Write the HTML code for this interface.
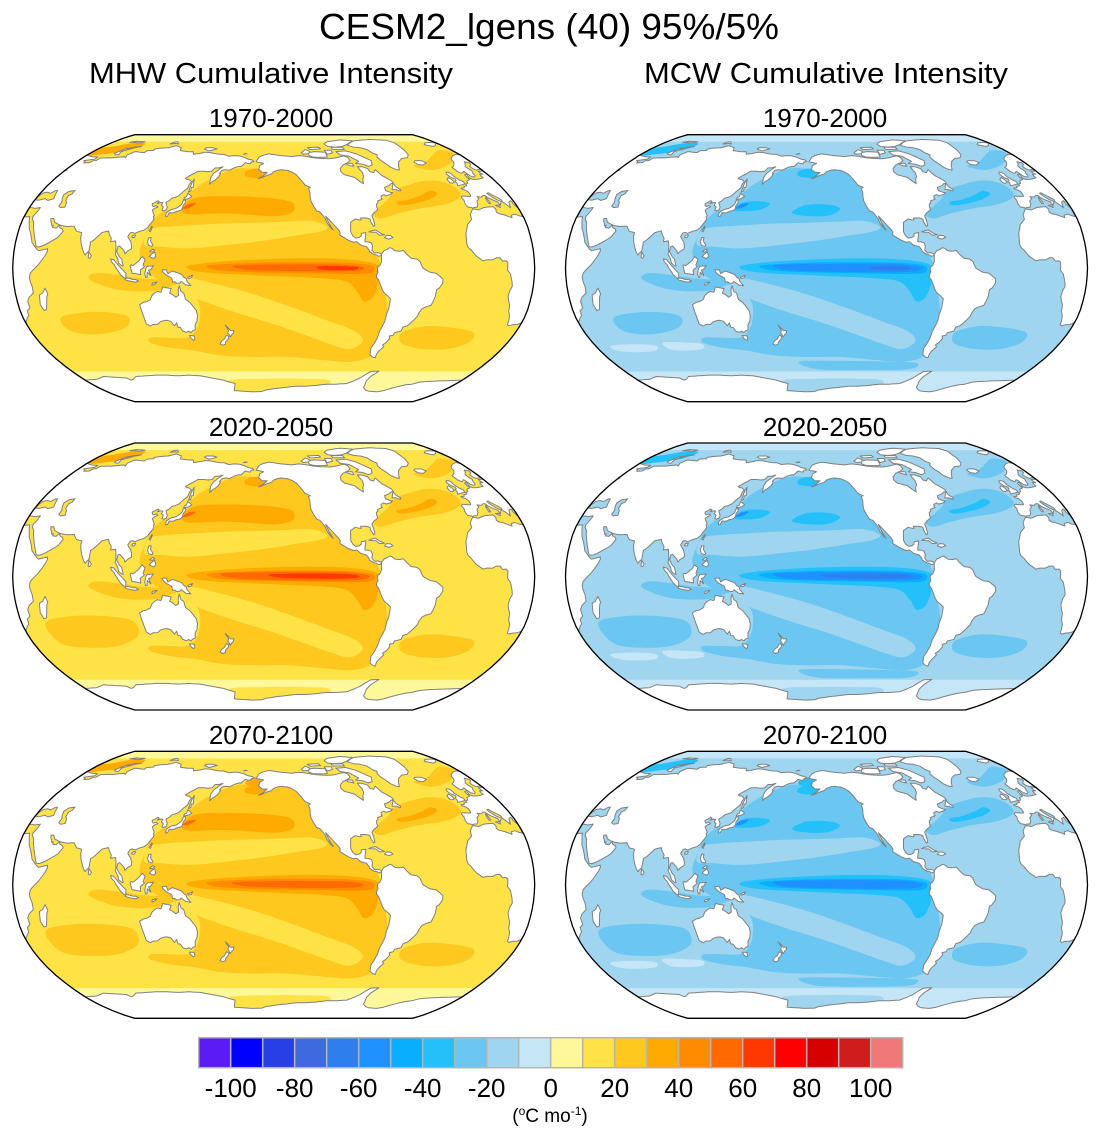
<!DOCTYPE html>
<html><head><meta charset="utf-8">
<style>
html,body{margin:0;padding:0;background:#fff;}
svg{display:block;}
text{font-family:"Liberation Sans",Arial,sans-serif;fill:#000;}
</style></head><body>
<svg id="s" xmlns="http://www.w3.org/2000/svg" width="1100" height="1140" viewBox="0 0 1100 1140">
<rect width="1100" height="1140" fill="#fff"/>
<text x="549" y="39" font-size="36" text-anchor="middle" textLength="460" lengthAdjust="spacingAndGlyphs">CESM2_lgens (40) 95%/5%</text>
<text x="271" y="83" font-size="29" text-anchor="middle" textLength="364" lengthAdjust="spacingAndGlyphs">MHW Cumulative Intensity</text>
<text x="826" y="83" font-size="29" text-anchor="middle" textLength="364" lengthAdjust="spacingAndGlyphs">MCW Cumulative Intensity</text>
<text x="271" y="127" font-size="26" text-anchor="middle">1970-2000</text>
<text x="825" y="127" font-size="26" text-anchor="middle">1970-2000</text>
<text x="271" y="436" font-size="26" text-anchor="middle">2020-2050</text>
<text x="825" y="436" font-size="26" text-anchor="middle">2020-2050</text>
<text x="271" y="744" font-size="26" text-anchor="middle">2070-2100</text>
<text x="825" y="744" font-size="26" text-anchor="middle">2070-2100</text>
<g id="panels"></g>
<g id="cbar" stroke="#b4b4b4" stroke-width="1.5">
<rect x="198.7" y="1037.7" width="32" height="30" fill="#5a1bf5"/>
<rect x="230.7" y="1037.7" width="32" height="30" fill="#0000ff"/>
<rect x="262.7" y="1037.7" width="32" height="30" fill="#283fe6"/>
<rect x="294.7" y="1037.7" width="32" height="30" fill="#3f69df"/>
<rect x="326.7" y="1037.7" width="32" height="30" fill="#2e7fee"/>
<rect x="358.7" y="1037.7" width="32" height="30" fill="#1e90ff"/>
<rect x="390.7" y="1037.7" width="32" height="30" fill="#0aaeff"/>
<rect x="422.7" y="1037.7" width="32" height="30" fill="#23c0fa"/>
<rect x="454.7" y="1037.7" width="32" height="30" fill="#6bc7f1"/>
<rect x="486.7" y="1037.7" width="32" height="30" fill="#a0d5ef"/>
<rect x="518.7" y="1037.7" width="32" height="30" fill="#c5e6f6"/>
<rect x="550.7" y="1037.7" width="32" height="30" fill="#fff89a"/>
<rect x="582.7" y="1037.7" width="32" height="30" fill="#ffe346"/>
<rect x="614.7" y="1037.7" width="32" height="30" fill="#ffc81e"/>
<rect x="646.7" y="1037.7" width="32" height="30" fill="#ffaa00"/>
<rect x="678.7" y="1037.7" width="32" height="30" fill="#ff8c00"/>
<rect x="710.7" y="1037.7" width="32" height="30" fill="#ff6a00"/>
<rect x="742.7" y="1037.7" width="32" height="30" fill="#ff3700"/>
<rect x="774.7" y="1037.7" width="32" height="30" fill="#ff0000"/>
<rect x="806.7" y="1037.7" width="32" height="30" fill="#d70000"/>
<rect x="838.7" y="1037.7" width="32" height="30" fill="#d01c1c"/>
<rect x="870.7" y="1037.7" width="32" height="30" fill="#f07878"/>
</g>
<g font-size="26" text-anchor="middle">
<text x="230.7" y="1097">-100</text>
<text x="294.7" y="1097">-80</text>
<text x="358.7" y="1097">-60</text>
<text x="422.7" y="1097">-40</text>
<text x="486.7" y="1097">-20</text>
<text x="550.7" y="1097">0</text>
<text x="614.7" y="1097">20</text>
<text x="678.7" y="1097">40</text>
<text x="742.7" y="1097">60</text>
<text x="806.7" y="1097">80</text>
<text x="870.7" y="1097">100</text>
</g>
<text x="550" y="1122" font-size="19" text-anchor="middle">(<tspan font-size="12" dy="-7">o</tspan><tspan dy="7">C mo</tspan><tspan font-size="12" dy="-7">-1</tspan><tspan dy="7">)</tspan></text>
</svg>
<script>
(function(){
var RX=[1,0.9986,0.9954,0.99,0.9822,0.973,0.96,0.9427,0.9216,0.8962,0.8679,0.835,0.7986,0.7597,0.7186,0.6732,0.6213,0.5722,0.5322];
var RY=[0,0.062,0.124,0.186,0.248,0.31,0.372,0.434,0.4958,0.5571,0.6176,0.6769,0.7346,0.7903,0.8435,0.8936,0.9394,0.9761,1];
var C0=208,SX=1.45,SY=133.5;
function P(lon,lat){var a=Math.min(90,Math.abs(lat))/5,i=Math.min(17,Math.floor(a)),f=a-i;
 var X=RX[i]+(RX[i+1]-RX[i])*f,Y=RY[i]+(RY[i+1]-RY[i])*f;
 return [SX*X*(lon-C0),-SY*Y*(lat<0?-1:1)];}
function r(v){return Math.round(v*10)/10;}
function dens(pts){var out=[];for(var k=0;k<pts.length;k++){var a=pts[k],b=pts[(k+1)%pts.length];
 var dl=Math.max(Math.abs(b[0]-a[0]),Math.abs(b[1]-a[1]));var n=Math.max(1,Math.ceil(dl/4));
 for(var j=0;j<n;j++){out.push([a[0]+(b[0]-a[0])*j/n,a[1]+(b[1]-a[1])*j/n]);}}return out;}
function poly(pts,off){var q=dens(pts);var d='';for(var k=0;k<q.length;k++){var p=P(q[k][0]+off,q[k][1]);d+=(k?'L':'M')+r(p[0])+','+r(p[1]);}return d+'Z';}
function smooth(pts,off){var q=[];for(var k=0;k<pts.length;k++)q.push(P(pts[k][0]+off,pts[k][1]));var n=q.length;
 var d='M'+r(q[0][0])+','+r(q[0][1]);
 for(var i=0;i<n;i++){var p0=q[(i-1+n)%n],p1=q[i],p2=q[(i+1)%n],p3=q[(i+2)%n];
  d+='C'+r(p1[0]+(p2[0]-p0[0])/6)+','+r(p1[1]+(p2[1]-p0[1])/6)+' '+r(p2[0]-(p3[0]-p1[0])/6)+','+r(p2[1]-(p3[1]-p1[1])/6)+' '+r(p2[0])+','+r(p2[1]);}
 return d+'Z';}
function multi(f,pts){return f(pts,-360)+f(pts,0)+f(pts,360);}

var o=[],la;for(la=90;la>=-90;la-=2.5)o.push(P(C0+180,la));for(la=-90;la<=90;la+=2.5)o.push(P(C0-180,la));
var OUT='';for(var k=0;k<o.length;k++)OUT+=(k?'L':'M')+r(o[k][0])+','+r(o[k][1]);OUT+='Z';

var LAND=[
[[-168,65.6],[-166,68.8],[-163,70],[-157,71.3],[-152,70.8],[-145,70],[-141,69.7],[-135,69.3],[-128,70],[-122,69.5],[-115,68.5],[-108,68],[-100,67.8],[-95,68.2],[-90,69],[-85,69.8],[-82,68.8],[-81.5,66.5],[-86,64.5],[-90,63.5],[-94,61],[-94.5,59],[-92.5,57],[-88,56],[-85,55.2],[-82.3,52.9],[-80,51.3],[-79,54],[-77,56],[-76.5,58.5],[-77.5,60.5],[-78,62.4],[-74,62.3],[-70,61],[-69.5,59],[-67,58.3],[-65,59.8],[-64,60.3],[-61.5,56.5],[-59,55],[-56,53],[-55.7,51.6],[-58,51.3],[-60,50.2],[-64.5,49],[-64.8,47],[-61,45.7],[-60,45.8],[-62,44.7],[-66,43.8],[-67.5,44.5],[-70,43.7],[-70.5,42.2],[-70,41.7],[-71.5,41.3],[-74,40.6],[-74.1,39.5],[-75.5,38.8],[-76,37],[-75.7,35.5],[-77,34.6],[-79,33.5],[-81,31.8],[-80.2,27.5],[-80.1,25.8],[-81.1,25.2],[-81.8,26.5],[-82.7,28],[-82.8,29.5],[-84,30.1],[-86,30.4],[-89.5,30.3],[-89.2,29.2],[-90.5,29.1],[-93.5,29.7],[-97,27.8],[-97.5,25],[-97.7,22],[-96.5,19.5],[-94.5,18.2],[-92,18.6],[-90.6,19.5],[-90.4,21],[-87.1,21.5],[-87.5,19.5],[-88.2,17.3],[-88.3,16],[-86,15.9],[-84,15.3],[-83.3,13.5],[-83.8,11],[-82.2,9.1],[-80,9.4],[-78,8.8],[-77.3,8.2],[-78,7.5],[-79.8,7.2],[-80.5,8],[-82.5,8.2],[-85.7,10],[-85.8,11],[-87.5,13],[-91.5,14],[-94,16],[-96.5,15.7],[-100,17],[-105.5,20],[-105.2,21.7],[-106,23],[-109,26],[-112.5,29.5],[-114.5,31.5],[-113,28],[-112,26],[-110,23],[-111.8,24.5],[-114,27.5],[-115,30],[-117,32.5],[-118.5,34],[-120.6,34.6],[-122.5,37.5],[-124,40.5],[-124.2,43],[-124,46],[-124.7,48.4],[-123,49],[-127,50.5],[-130,54],[-133,57],[-136,58.5],[-140,59.8],[-145,60.3],[-148,60],[-152,59],[-154,57.5],[-158,56.5],[-162,55],[-164.5,54.5],[-161,56],[-157.5,58.5],[-162,58.6],[-165,60.5],[-164.5,63],[-161,64.5],[-166,65.3]],
[[-77.3,8.5],[-75.5,10.6],[-73,11.5],[-71.5,12.4],[-70,12],[-68,10.5],[-65,10.2],[-62,10.7],[-60,8.5],[-57,6],[-53,5.5],[-51,4],[-50,1.8],[-49,0],[-44,-2.5],[-40,-3],[-37,-5],[-35,-6.5],[-35,-9],[-37,-12],[-38.8,-13],[-39,-17],[-40,-20],[-41,-22.5],[-44.5,-23.3],[-47,-24.5],[-48.5,-27],[-49,-29],[-51,-31.5],[-53,-33.5],[-54.5,-34.8],[-57.2,-35.6],[-57.5,-38],[-62,-39],[-62.3,-40.5],[-65,-41],[-64,-42.5],[-65.5,-45],[-67.5,-46.5],[-66,-47.5],[-68,-50],[-69,-52],[-68.5,-54.5],[-71,-54],[-74,-52.5],[-75.5,-48.5],[-74.5,-46],[-73.5,-42],[-73.5,-38],[-72.5,-35],[-71.5,-32],[-71.5,-28],[-70.5,-24],[-70.2,-18.5],[-72,-17],[-75,-15],[-76.5,-13],[-78,-10],[-79.5,-7],[-81,-5.5],[-81,-4],[-80,-2.5],[-80.5,-0.5],[-80,1],[-78.8,1.5],[-77.5,4],[-77.5,7]],
[[-17.5,14.7],[-16.8,21],[-14,26.5],[-10,29.5],[-9.5,32.5],[-6,35.8],[-2,35.2],[3,36.7],[10,37.2],[11,35.5],[10.2,34],[11.5,33],[15,32.2],[19.5,30.5],[20,32],[23,32.7],[25,31.8],[29,30.9],[32,31.2],[32.5,29.9],[33.5,27.5],[35,24],[37,21],[38.5,18],[39.5,15.5],[42,13],[43.5,11.5],[45,10.5],[51,11.8],[51.2,10.4],[50,8],[48,5],[45.5,2],[42,-1],[40,-3],[39.2,-5.5],[39.5,-8],[40.5,-11],[40.5,-15],[37,-17.5],[35.3,-20],[35.5,-24],[33,-25.8],[32.8,-28.5],[31,-30],[28,-33],[25.5,-34],[22,-34.2],[20,-34.8],[18.5,-34.2],[18,-32],[17,-29],[15,-26],[14.5,-22.5],[13,-20],[11.8,-17],[12.3,-13.5],[13.5,-11],[13,-8.5],[12.2,-6],[11.5,-3.5],[9.3,-1],[9.5,1],[9.7,3.5],[8.5,4.5],[6,4.3],[4.5,6.3],[2,6.3],[-1,5],[-3,5.1],[-5,5.1],[-7.5,4.4],[-9,5.5],[-11.5,7],[-13,8.5],[-15,11],[-16.8,12.5]],
[[-8.9,37],[-6,36.5],[-5.5,36.1],[-4.5,36.7],[-2,36.8],[0,38.7],[0.5,40.5],[3.2,42],[3,43.3],[6,43],[8,44],[9.8,44],[10.5,42.8],[12.5,41.5],[15.7,40],[16,38],[17,39],[18.5,40.2],[16,41.5],[13.5,43.7],[12.3,45.3],[13.7,45.7],[15,44.5],[18,42.7],[19.5,41.5],[19.3,40],[21,38.5],[22.5,36.5],[23,38],[24,40],[26,40.8],[26.5,40],[26.2,39.3],[27,37.5],[28,36.7],[30.5,36.5],[32.5,36.1],[36,36.7],[35.8,34.5],[34.9,32.5],[34.3,31.3],[34.9,29.5],[36.5,28],[39,22],[41,17.5],[43,13],[45,12.8],[48.5,14],[52,15.8],[55,17.5],[57,18.8],[59.5,22.5],[58.5,23.7],[56.5,24.5],[56,26.2],[54,24.2],[51.5,24.5],[51.3,26],[50.5,25.5],[50,26.5],[48.5,28.5],[48,30],[50,30],[51.5,27.8],[54.5,26.6],[57,25.8],[61.5,25.2],[66.5,25.4],[67.5,24],[69,22.3],[72.8,21.5],[72.8,19],[73.5,16],[74.6,13],[76.3,9.5],[77.5,8],[78.2,8.9],[79.9,10.3],[80.2,13.5],[80.3,15.8],[82.3,17],[85,19.5],[87,21.5],[89,22],[91.5,22.5],[92.4,20.6],[94.3,18],[94.2,16],[97.6,16.5],[98.3,13.5],[98.6,10],[98.3,8.5],[100.2,5.6],[101,3],[103.5,1.3],[104.2,1.4],[103.4,4],[103,5.5],[101.3,6.9],[100.2,8.5],[99.2,10],[99.7,13],[100.9,13.4],[102.3,12.2],[104.3,10.5],[105,8.7],[106.7,10.4],[109.2,11.7],[109.2,13.5],[108.3,16],[106.5,18],[105.7,19],[107,21.3],[108.5,21.7],[110.3,21],[111.5,21.5],[113.5,22.3],[116.5,23],[118.7,24.5],[120,26.5],[121.5,28.5],[122,30],[121.2,31],[121.8,31.7],[120.5,33.3],[119.2,35],[120.5,36.2],[122.5,37],[121,37.8],[119,37.2],[118,38],[117.6,39],[119.5,39.8],[121,40.8],[122.2,40.3],[121.3,39],[123.5,39.7],[125.3,39.5],[124.7,38],[126.5,37],[126.2,35],[127.4,34.6],[129.3,35.3],[129.5,36.8],[128.3,38.5],[127.5,39.7],[129.7,41],[130.7,42.3],[133,42.8],[135.5,43.8],[138,46.5],[140.3,48.5],[140.5,51],[141.4,52.5],[138.5,54],[137,54],[135.2,54.7],[137.8,56.4],[140.5,57.8],[143,59.3],[148,59.3],[152,59],[155,59.3],[156.8,61.5],[160,61.5],[163.2,62.3],[160,60],[157,57.8],[156,55],[156.7,51],[158.5,52.8],[160,53.5],[161.8,55],[162.5,56.2],[163,57.8],[162,58],[163.5,59.8],[166,60.3],[170,60],[174,61.8],[177.5,62.6],[179,62.3],[181,64],[182,65],[184.5,64.5],[187,64.3],[187.5,65.5],[190,65.8],[188,67],[185,67.3],[180,68.8],[175,69.8],[170,70],[165,69.6],[160,70.8],[155,71],[150,71.6],[145,72.3],[140,72.5],[135,71.6],[130,71],[128,72.8],[122,73],[114,73.7],[112,76],[106,77.2],[104,77.7],[100,76.5],[98,76],[90,75.5],[86,74.8],[87,73.8],[80.5,73.6],[80.5,72.2],[75,72.5],[72.5,72.8],[69.5,72.9],[66.5,70.5],[68,68.5],[66,69.2],[60,68.8],[55,68.4],[53,68.5],[45,68.3],[44,66.5],[41.5,66.5],[40.5,65],[36,64.8],[34.8,66],[32.7,66.5],[41,67.5],[41.1,69],[36,69.1],[30,70],[25,71],[20,70],[15.5,68.5],[13,67],[12.2,65.5],[10.5,64.3],[8,63],[5,62],[5.5,59],[7,58],[8.5,58.2],[10.5,59.2],[11.2,58.8],[12.2,56.2],[12.7,56],[14.3,55.5],[16.3,56.3],[16.8,57.8],[18.5,59.5],[17.5,61],[17.5,62.5],[21,64.5],[22.3,65.7],[25.4,65],[25,64],[21.5,62.5],[21.5,61],[23,60],[26,60.4],[29.5,60],[28,59.5],[23.5,59.3],[23.5,58],[24.3,57.3],[21.5,57.3],[21,56],[21,55],[18.8,54.6],[16,54.2],[14,54],[11,54],[10,54.5],[9.5,55],[10.5,57.5],[8.5,57],[8.2,55.5],[8.6,53.9],[7,53.5],[5,53],[4,51.5],[3,51.3],[1.6,50.9],[1.5,50],[0,49.7],[-1.3,49.6],[-1.8,48.7],[-4.7,48.5],[-4.3,47.8],[-2.2,47.2],[-1.2,46],[-1.2,44.5],[-1.8,43.4],[-4,43.4],[-8,43.7],[-9.3,43],[-8.8,41],[-9.5,38.8]],
[[-73,78],[-66,80.5],[-60,82],[-40,83.5],[-22,82.5],[-18,80],[-19,77],[-20,74],[-22,70.5],[-26,68.5],[-32,68],[-38,65.5],[-41,63],[-43.5,60],[-46,60.5],[-49,62],[-51,64.5],[-53,66.5],[-54,69],[-52,70.5],[-55,72],[-57,74.5],[-62,76],[-68,76.5]],
[[-80,73.5],[-72,71.5],[-67,69],[-62,66.5],[-64,63.5],[-68,62.5],[-72,64],[-78,64.5],[-74,66],[-80,69.5],[-88,70.5],[-90,73]],
[[-118,72],[-112,73],[-101,72.5],[-101,69],[-108,68.8],[-115,69],[-118,70]],
[[-125,72],[-120,74.5],[-116,73],[-118,71.5],[-123,71]],
[[-95,77],[-88,76.5],[-80,77],[-73,78.5],[-62,82],[-75,83],[-92,81],[-97,79]],
[[-92,76.3],[-80,76.3],[-80,74.6],[-92,74.6]],
[[-117,76],[-105,76.5],[-104,75],[-115,74.5]],
[[-101,74],[-94,74],[-94,72],[-100,71]],
[[-87,64.5],[-81,64.5],[-81,62.5],[-86,63.5]],
[[-59.4,47.6],[-56,51.6],[-55.4,49.5],[-52.7,47.5],[-53.7,46.6],[-56,47.6]],
[[-5.7,50],[1.5,51.2],[1.7,52.7],[0,53.5],[-1.5,55.2],[-2,56],[-1.8,57.6],[-3,58.6],[-5,58.6],[-6.2,57.5],[-5.7,56],[-4.8,55],[-3,54.3],[-3.3,53.3],[-4.7,52.8],[-4.5,51.7]],
[[-6,52.2],[-6.2,54],[-7.5,55.3],[-10,54],[-10,51.8],[-8,51.6]],
[[-24,65.5],[-22,66.4],[-16,66.5],[-13.6,65],[-18.5,63.4],[-22.5,63.8]],
[[11,78.5],[16,80],[22,80.4],[27,80],[22,78],[17,77],[14,77.5]],
[[52,71.5],[55,70.7],[58,70.6],[56,73],[62,75.8],[68.5,76.9],[64,76.6],[56,75],[53.5,73]],
[[95,79],[100,79.5],[104,79],[100,81],[96,80.5]],
[[137,75],[143,73.5],[150,75],[145,76],[138,76]],
[[178.5,71],[182,71.3],[180.5,71.6]],
[[47,80.5],[60,80],[63,81],[52,81.5]],
[[8.5,39],[9.8,39.1],[9.5,41.2],[9.4,43],[8.6,42.4],[8.3,40.8]],
[[12.4,38],[15.6,38.2],[15.1,36.7]],
[[130,31.3],[131.3,31.4],[132,33.5],[134,33.4],[135.4,33.5],[136.9,34.3],[138.8,34.6],[140,35],[140.9,36],[141,38],[142,39.5],[141.4,41.4],[140,40.8],[139.8,39],[139,38],[137.3,36.8],[136,36],[133,35.5],[131,34.4],[129.8,33.4]],
[[140,41.5],[141.2,41.8],[143.3,42],[145.5,43.3],[144.5,44],[141.7,45.4],[141.5,43.2],[140.2,42.8]],
[[142,46],[143.5,46.8],[143,49],[144.5,49],[142.8,54.3],[142.2,52],[142,49]],
[[120.2,22.5],[121.5,25.3],[122,25],[121,22]],
[[108.6,18.5],[110.5,18.6],[111,20],[110,20.1],[108.7,19.5]],
[[120,16],[120.6,18.5],[122.2,18.5],[122,16.5],[124,13.9],[123.3,13.2],[121,13.8],[120.6,14.5]],
[[122,10],[124,11.5],[125.5,11],[124,9.7]],
[[122,7],[125,5.8],[126.5,7],[125.5,9.8],[123.5,8.5]],
[[109,1.5],[109.6,-1],[110.2,-3],[114,-3.5],[116.2,-4],[116,-1.2],[118.9,1],[117.9,1.9],[119.2,5.3],[117,7],[116,6],[115.3,4.9],[113,3.1],[111,1.6],[109.5,2]],
[[95.3,5.6],[97.5,5.2],[100.3,2.3],[103.5,-0.7],[106,-3],[105.8,-5.8],[104.6,-5.9],[102.3,-4],[100.5,-1.5],[99,0.5],[98,2.2],[96,3.8]],
[[105.2,-6.8],[106,-5.9],[108.4,-6.2],[110.5,-6.8],[112.6,-6.9],[114.5,-7.8],[112.5,-8.4],[110,-8.1],[106.5,-7.4]],
[[119.5,-5.5],[120.5,-5.5],[120.8,-2.5],[123.3,-4.5],[121.6,-1.2],[123,-0.9],[125,1.5],[120.8,1.2],[119.8,0],[119,-3.5]],
[[131,-1],[134,-0.9],[135,-3.3],[138,-1.7],[141,-2.6],[144.5,-3.8],[146,-5.5],[147.5,-6.3],[148,-8],[150.5,-10.5],[147,-10.1],[144,-8],[143,-9],[141,-9.1],[139.5,-8.2],[138,-8.4],[137.5,-6],[133.5,-4],[132,-2.8],[131,-1.5]],
[[124,-9],[127.3,-8.4],[125,-10],[123.5,-10.2]],
[[148.5,-5.5],[152,-4.2],[151,-5.8],[149,-6.2]],
[[79.8,6.2],[80,9.8],[81.9,7.5],[81,6]],
[[113.5,-22],[114.2,-26],[115,-30],[115.3,-33.6],[117.7,-35],[120,-34],[123.5,-33.9],[126,-32.3],[129,-31.6],[131,-31.5],[133.5,-32.1],[135.5,-34.8],[137.5,-33],[137.8,-35.7],[139.5,-35.8],[140.5,-38],[143,-38.8],[145,-38],[146.5,-39],[148,-37.8],[150,-37.3],[150.8,-34],[152.5,-32],[153.5,-28.5],[153,-25.5],[150.8,-22.7],[149,-20.6],[146.2,-18.8],[145.3,-15],[143.5,-14],[142.5,-10.7],[141.6,-13],[141.5,-16.5],[139.5,-17.5],[137.5,-16],[135.5,-15],[136.8,-12.3],[134,-11.9],[131,-11.3],[129.5,-14.5],[127,-14],[125,-15],[123,-16.5],[121.5,-19],[118.5,-20.3],[116.5,-20.6],[114,-21.8]],
[[144.7,-40.7],[148.3,-40.9],[148,-43],[146.8,-43.6],[145.3,-42.3]],
[[172.7,-34.4],[174.5,-36],[176,-37.7],[178.5,-37.7],[177.9,-39.2],[176.8,-40],[175.2,-41.6],[174.6,-39.9],[173.8,-39.2],[174.6,-37.5]],
[[172.7,-40.5],[174.2,-41.3],[173.3,-43],[171.2,-44.5],[170.5,-46],[168.5,-46.6],[166.5,-45.8],[168.3,-44],[170.5,-42.9],[172,-41.2]],
[[49.3,-12],[50.5,-15.5],[49.5,-17],[48,-22],[47,-25],[45,-25.5],[43.5,-22],[44,-19],[44.5,-16.2],[47,-15]],
[[-85,21.9],[-82.5,22.7],[-80,23.1],[-77,21.2],[-74.2,20.2],[-77.7,19.9],[-80,21.7],[-82,21.7]],
[[-74.4,18.5],[-72.8,19.9],[-70,19.7],[-68.4,18.6],[-71.5,17.6]],
[[28,-69.5],[40,-69],[50,-67],[60,-67.5],[70,-68],[72,-69.5],[75,-69],[80,-67],[90,-66.5],[100,-66],[110,-66],[120,-66.5],[130,-66],[140,-66.5],[150,-68],[160,-69.5],[165,-71],[170,-72],[168,-75],[166,-77.5],[175,-78],[185,-78.5],[195,-78.3],[200,-77],[205,-76.5],[210,-75.8],[220,-75],[230,-74],[240,-74],[250,-73.5],[260,-72.5],[270,-72.5],[280,-72],[285,-70],[289,-68],[292,-65.5],[295,-63.5],[302,-63.3],[300,-65],[298,-67],[297,-70],[299,-73],[300,-75],[305,-77],[310,-78],[320,-78.5],[325,-77.5],[330,-75.5],[335,-74],[340,-73],[345,-72.5],[350,-71],[360,-70.3],[370,-70],[380,-69.8],[388,-69.5],[388,-90],[28,-90]]
];
var LAKES=[
[[47,44.5],[49,46.5],[53,47],[53,45],[51,44],[51.5,41],[53,40],[54,37],[51,36.6],[49,37.5],[49.5,40],[48,42]],
[[28,41.5],[28.5,43.5],[30,45.5],[33,46],[36,45.3],[38,47],[39.5,47],[41.5,42],[38,41],[35,42],[31,41.1]]
];

var landG='<g id="land">';
for(var i=0;i<LAND.length;i++)landG+='<path d="'+multi(poly,LAND[i])+'"/>';
landG+='</g>';
var lakeD='';for(i=0;i<LAKES.length;i++)lakeD+=multi(poly,LAKES[i]);

var PAC=[[118,20],[121,28],[127,34],[135,36],[141,40],[143,45],[150,51],[162,57],[175,61],[190,61],[203,59.5],[215,60],[226,59],[233,54],[236,46],[238,38],[243,32],[250,26],[257,21],[264,16],[272,13],[278,9],[282,2],[283,-6],[286,-16],[289,-28],[288,-40],[289,-52],[275,-57],[250,-56],[220,-54],[190,-54],[165,-53],[145,-50],[125,-48],[113,-45],[115,-42],[130,-42],[142,-42],[150,-38],[155,-30],[155,-20],[145,-12],[135,-9],[125,-5],[118,3],[115,10]];
var NWB=[[118,14],[130,13],[150,12],[175,14],[200,16.5],[222,19.5],[240,22],[246,25],[235,28.5],[215,28],[195,27.5],[172,27],[150,26],[132,25],[120,23]];
var SPB=[[148,-6],[170,-10],[195,-16],[222,-24],[248,-32],[268,-38],[276,-44],[268,-49],[252,-46],[230,-40],[205,-33],[182,-27],[162,-21],[148,-16],[140,-11]];
var IND1=[[55,-30],[70,-27],[88,-26.5],[103,-29],[101,-35],[86,-39],[68,-40],[56,-37]];
var IND2=[[45,-28],[65,-24],[90,-24],[108,-27],[108,-36],[90,-42],[65,-43],[48,-40]];
var INDO=[[85,-3],[100,-4],[115,-6],[130,-7],[140,-9],[130,-13],[115,-14],[100,-13],[88,-10],[80,-6]];
var SATL=[[305,-38],[320,-35],[340,-36],[357,-39],[358,-45],[345,-49],[325,-49],[308,-46],[303,-42]];
var NATL=[[280,33],[288,38],[295,42],[300,46],[308,49],[318,51],[330,53],[342,53],[350,50],[352,45],[345,41],[332,38],[315,36],[298,33],[285,30]];
var NORD=[[333,63],[348,66],[360,70],[375,74],[385,72],[372,66],[358,62],[343,60]];
var BAR=[[30,70],[42,71],[55,72.5],[65,75],[68,79],[55,80],[38,77],[28,75]];
var NATL3=[[300,40],[310,41.5],[322,44.5],[330,47],[334,45],[325,41.5],[312,39],[302,38]];
var KURO=[[141,34.5],[144,40.5],[152,43],[165,43.5],[180,43.5],[195,43],[210,42],[222,39.5],[222,34],[210,31.5],[195,32],[178,33],[162,33],[148,32.5]];
var KUROA=[[141,35],[145,39.5],[156,40.5],[166,39],[160,35.5],[150,34.5]];
var KUROB=[[183,33.5],[192,38],[208,38.5],[218,36],[210,32],[195,31.5]];
var BER=[[185,56],[196,55],[206,57.5],[204,60],[192,61],[184,59]];
var BER2=[[183,62],[190,60],[197,62],[195,66],[186,66]];
var EQ3=[[148,1],[160,3],[180,4.5],[205,5.5],[230,6],[255,5.5],[272,4],[280,1.5],[281,-4],[280,-11],[277,-18],[271,-20],[266,-14],[258,-8],[240,-6],[215,-5],[190,-4],[168,-3],[153,-1.5]];
var EQ4=[[162,1.5],[180,2.8],[205,3.5],[235,3.6],[260,3.2],[276,1.5],[276,-2.5],[265,-3.5],[240,-3.2],[210,-2.8],[185,-2.2],[168,-1]];
var EQ5=[[180,1.5],[205,2.2],[235,2.3],[258,2],[270,0.5],[265,-1.6],[240,-2],[210,-1.6],[188,-0.8]];
var EQ5B=[[172,1.8],[200,2.6],[235,2.8],[260,2.4],[274,0.5],[268,-2],[240,-2.5],[205,-2],[180,-1]];
var EQ6=[[238,1],[252,1.3],[266,0.6],[263,-1],[250,-1.2],[240,-0.6]];
var EQ6B=[[205,1.2],[235,1.8],[262,1.2],[266,-0.6],[245,-1.4],[215,-0.8]];
var JAP=[[141,36.5],[145,38.8],[150,39.2],[148,37.5],[144,36]];
var ROSS=[[165,-70],[200,-68.5],[235,-68.5],[262,-70],[258,-80],[210,-82],[170,-80]];
var SO2=[[185,-57],[220,-56.5],[260,-57],[285,-58],[280,-62],[240,-62.5],[200,-62]];
var SIL1=[[40,-47],[60,-46],[75,-47],[72,-50],[55,-51],[42,-50]];
var SIL2=[[82,-45],[100,-45],[112,-46],[110,-49],[95,-50],[84,-49]];

function getBlobs(c,row){
 var b=[];
 b.push([0,0,[[28,-63.5],[388,-63.5],[388,-90],[28,-90]]]);
 b.push([1,1,ROSS]);
 b.push([0,0,[[28,81],[388,81],[388,90],[28,90]]]);
 b.push([2,1,PAC]);
 b.push([1,1,NWB]);
 b.push([1,1,SPB]);
 b.push([2,1,row==0?IND1:IND2]);
 b.push([2,1,INDO]);
 b.push([2,1,SATL]);
 b.push([2,1,NATL]);
 b.push([2,1,NORD]);
 if(c==1){b.push([2,1,SO2]);b.push([0,1,SIL1]);b.push([0,1,SIL2]);}
 b.push([3,1,BAR]);
 b.push([3,1,NATL3]);
 if(c==0)b.push([3,1,KURO]);else{b.push([3,1,KUROA]);b.push([3,1,KUROB]);}
 b.push([3,1,BER]);
 if(row==2)b.push([3,1,BER2]);
 b.push([3,1,EQ3]);
 b.push([4,1,EQ4]);
 b.push([5,1,(row==1||c==1)?EQ5B:EQ5]);
 b.push([5,1,JAP]);
 if(row==1)b.push([6,1,EQ6B]);
 else if(row==0)b.push([6,1,EQ6]);
 return b;
}

var COL=[['#fff89a','#ffe346','#ffc81e','#ffaa00','#ff8c00','#ff6a00','#ff3700'],
         ['#c5e6f6','#a0d5ef','#6bc7f1','#23c0fa','#0aaeff','#1e90ff','#2e7fee']];
var CX=[273.7,826.5],CY=[268.2,576.5,884.8];

var s='<defs><clipPath id="rc"><path d="'+OUT+'"/></clipPath>'+landG+'</defs>';
for(var c=0;c<2;c++)for(var rw=0;rw<3;rw++){
 var col=COL[c];
 s+='<g transform="translate('+CX[c]+','+CY[rw]+')"><g clip-path="url(#rc)"><path d="'+OUT+'" fill="'+col[1]+'"/>';
 var bl=getBlobs(c,rw);
 for(var j=0;j<bl.length;j++){
  s+='<path d="'+(bl[j][1]?multi(smooth,bl[j][2]):multi(poly,bl[j][2]))+'" fill="'+col[bl[j][0]]+'"/>';
 }
 s+='<use href="#land" fill="#ffffff" stroke="#808080" stroke-width="1" stroke-linejoin="round"/>';
 s+='<path d="'+lakeD+'" fill="'+col[1]+'" stroke="#808080" stroke-width="1"/>';
 s+='</g><path d="'+OUT+'" fill="none" stroke="#000" stroke-width="1.3"/></g>';
}
document.getElementById('panels').innerHTML=s;
})();
</script>
</body></html>
